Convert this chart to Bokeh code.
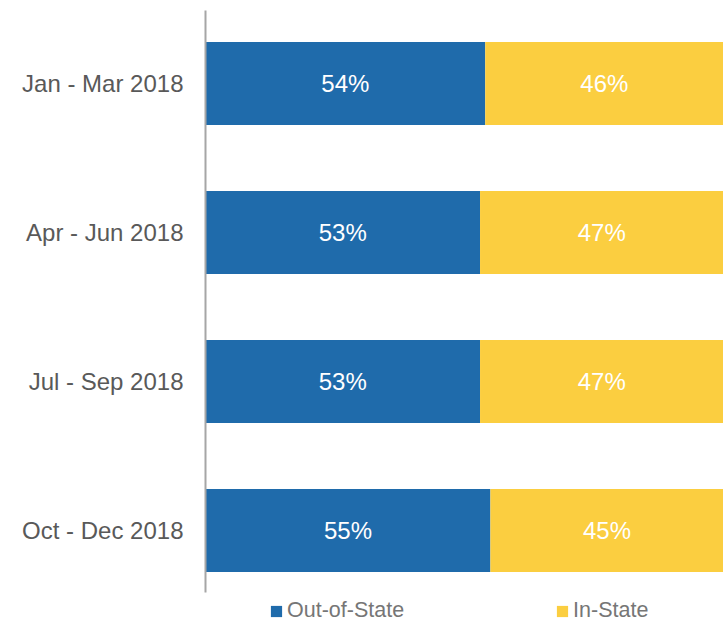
from bokeh.plotting import figure
from bokeh.models import Range1d, FixedTicker, Legend, LegendItem, ColumnDataSource
from bokeh.core.properties import value
from bokeh.embed import file_html
from bokeh.resources import INLINE

categories = ["Jan - Mar 2018", "Apr - Jun 2018", "Jul - Sep 2018", "Oct - Dec 2018"]
out_of_state = [54, 53, 53, 55]
in_state = [46, 47, 47, 45]
series_names = ["Out-of-State", "In-State"]
colors = ["#1f6bab", "#fbce40"]

pos = list(range(len(categories)))
source = ColumnDataSource(dict(pos=pos, cat=categories, out=out_of_state, ins=in_state))

p = figure(width=723, height=623, output_backend="svg", toolbar_location=None,
           x_range=Range1d(0, 100), y_range=Range1d(3.624, -0.49),
           x_axis_location=None, min_border_left=205, min_border_right=0,
           min_border_top=10, min_border_bottom=0)
p.outline_line_color = None
p.grid.visible = False
p.background_fill_color = "white"

rs = p.hbar_stack(["out", "ins"], y="pos", height=0.557, color=colors,
                  line_color=None, source=source)

FONT = "Liberation Sans"
# segment labels
out_mid = [o / 2 for o in out_of_state]
in_mid = [o + i / 2 for o, i in zip(out_of_state, in_state)]
lab_src = ColumnDataSource(dict(
    x=out_mid + in_mid,
    y=pos + pos,
    t=[f"{v}%" for v in out_of_state] + [f"{v}%" for v in in_state]))
p.text(x="x", y="y", text="t", source=lab_src, text_color="white",
       text_font=value(FONT), text_font_size="24px",
       text_align="center", text_baseline="middle")

ax = p.yaxis[0]
ax.ticker = FixedTicker(ticks=pos)
ax.bounds = (-0.49, 3.416)
ax.major_label_overrides = {i: c for i, c in zip(pos, categories)}
ax.major_tick_line_color = None
ax.minor_tick_line_color = None
ax.axis_line_color = "#a6a6a6"
ax.axis_line_width = 2
ax.major_label_standoff = 16
ax.major_label_text_font = FONT
ax.major_label_text_font_size = "24px"
ax.major_label_text_color = "#595959"

legend = Legend(items=[LegendItem(label=series_names[0], renderers=[rs[0]]),
                       LegendItem(label=series_names[1], renderers=[rs[1]])],
                orientation="horizontal", location=(64, 0),
                glyph_width=14, glyph_height=14, label_standoff=4,
                spacing=151, padding=0, margin=0,
                label_text_font=FONT, label_text_font_size="21.5px",
                label_text_color="#767676", background_fill_alpha=0,
                border_line_color=None)
p.add_layout(legend)

open("out.html", "w").write(file_html(p, INLINE))
